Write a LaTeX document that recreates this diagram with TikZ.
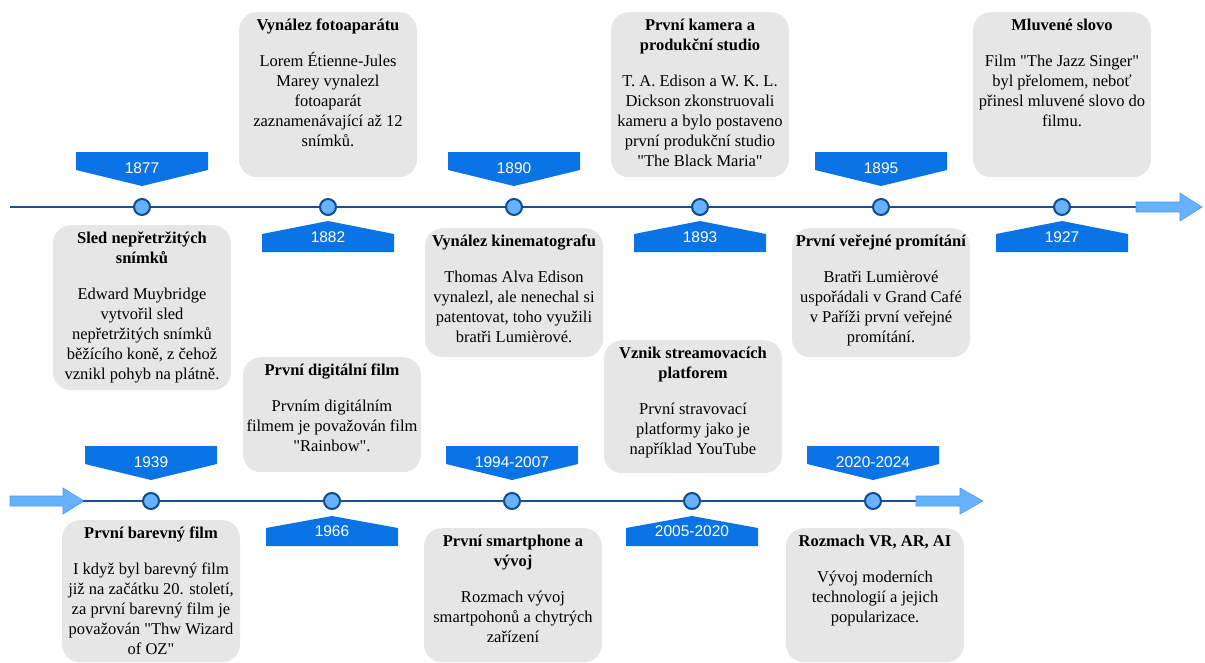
\documentclass[tikz,border=0pt]{standalone}
\usepackage{fontspec}
\setmainfont{Liberation Serif}
\newfontfamily\yearfont{Liberation Sans}
\usetikzlibrary{positioning}

\definecolor{axisblue}{HTML}{1A4F96}
\definecolor{dotrim}{HTML}{0E4C8C}
\definecolor{dotfill}{HTML}{66B2FF}
\definecolor{arrowrim}{HTML}{4A98F0}
\definecolor{tagblue}{HTML}{0A74E6}
\definecolor{cardgray}{HTML}{E6E6E6}

\begin{document}
\begin{tikzpicture}[x=1pt,y=-1pt,
    axis/.style={draw=axisblue,line width=2pt},
    event/.style={circle,draw=dotrim,fill=dotfill,line width=2pt,minimum size=16pt,inner sep=0pt},
    card/.style={fill=cardgray,rounded corners=18pt,minimum width=178pt,anchor=north,inner sep=0pt},
    cardtext/.style={font=\fontsize{16.5}{20}\selectfont,align=center,anchor=north,inner sep=0pt},
    yeartext/.style={font=\yearfont\fontsize{15.5}{18}\selectfont,text=white,inner sep=0pt},
    tag/.style={fill=tagblue},
    bigarrow/.style={fill=dotfill,draw=arrowrim,line width=0.6pt}]
  \useasboundingbox (0,0) rectangle (1205,662);

  % upper timeline
  \coordinate (u0) at (10,207);
  \coordinate (ua) at (1136,207);
  \draw[axis] (u0) -- (ua);
  \draw[bigarrow] (ua) ++(0,-5) -- ++(44,0) -- ++(0,-9) -- ++(22,14)
    -- ++(-22,14) -- ++(0,-9) -- ++(-44,0) -- cycle;
  \foreach \n/\x in {1/142,2/328,3/514,4/700,5/881,6/1062}
    \node[event] (e\n) at (\x,207) {};

  % year tags, upper line
  \foreach \x/\yr in {142/1877,514/1890,881/1895} {
    \fill[tag] (\x-66,152) -- (\x+66,152) -- (\x+66,170) -- (\x,186) -- (\x-66,170) -- cycle;
    \node[yeartext] (y\yr) at (\x,168) {\yr};
  }
  \foreach \x/\yr in {328/1882,700/1893,1062/1927} {
    \fill[tag] (\x,221) -- (\x+66,234) -- (\x+66,252) -- (\x-66,252) -- (\x-66,234) -- cycle;
    \node[yeartext] (y\yr) at (\x,237) {\yr};
  }

  % cards, upper line
  \node[card,minimum height=165pt] (c1) at (142,225) {};
  \node[cardtext,below=7pt of c1.north] (t1) {\textbf{Sled nepřetržitých}\\\textbf{snímků}\\[16pt]
    Edward Muybridge\\vytvořil sled\\nepřetržitých snímků\\běžícího koně, z čehož\\vznikl pohyb na plátně.};
  \node[card,minimum height=165pt] (c2) at (328,12) {};
  \node[cardtext,below=7pt of c2.north] (t2) {\textbf{Vynález fotoaparátu}\\[16pt]
    Lorem Étienne-Jules\\Marey vynalezl\\fotoaparát\\zaznamenávající až 12\\snímků.};
  \node[card,minimum height=129pt] (c3) at (514,228) {};
  \node[cardtext,below=7pt of c3.north] (t3) {\textbf{Vynález kinematografu}\\[16pt]
    Thomas Alva Edison\\vynalezl, ale nenechal si\\patentovat, toho využili\\bratři Lumièrové.};
  \node[card,minimum height=165pt] (c4) at (700,12) {};
  \node[cardtext,below=7pt of c4.north] (t4) {\textbf{První kamera a}\\\textbf{produkční studio}\\[16pt]
    T. A. Edison a W. K. L.\\Dickson zkonstruovali\\kameru a bylo postaveno\\první produkční studio\\\textquotedbl The Black Maria\textquotedbl};
  \node[card,minimum height=129pt] (c5) at (881,228) {};
  \node[cardtext,below=7pt of c5.north] (t5) {\textbf{První veřejné promítání}\\[16pt]
    Bratři Lumièrové\\uspořádali v Grand Café\\v Paříži první veřejné\\promítání.};
  \node[card,minimum height=165pt] (c6) at (1062,12) {};
  \node[cardtext,below=7pt of c6.north] (t6) {\textbf{Mluvené slovo}\\[16pt]
    Film \textquotedbl The Jazz Singer\textquotedbl\\byl přelomem, neboť\\přinesl mluvené slovo do\\filmu.};

  % lower timeline
  \coordinate (l0) at (10,501);
  \coordinate (la) at (83,501);
  \coordinate (lb) at (916,501);
  \draw[bigarrow] (l0) ++(0,-5) -- ++(53,0) -- ++(0,-8) -- ++(21,13)
    -- ++(-21,13) -- ++(0,-8) -- ++(-53,0) -- cycle;
  \draw[axis] (la) -- (lb);
  \draw[bigarrow] (lb) ++(0,-5) -- ++(44,0) -- ++(0,-8) -- ++(23,13)
    -- ++(-23,13) -- ++(0,-8) -- ++(-44,0) -- cycle;
  \foreach \n/\x in {7/151,8/332,9/512,10/692,11/873}
    \node[event] (e\n) at (\x,501) {};

  % year tags, lower line
  \foreach \x/\yr in {151/1939,512/1994-2007,873/2020-2024} {
    \fill[tag] (\x-66,446) -- (\x+66,446) -- (\x+66,464) -- (\x,480) -- (\x-66,464) -- cycle;
    \node[yeartext] (y\yr) at (\x,462) {\yr};
  }
  \foreach \x/\yr in {332/1966,692/2005-2020} {
    \fill[tag] (\x,516) -- (\x+66,528) -- (\x+66,546) -- (\x-66,546) -- (\x-66,528) -- cycle;
    \node[yeartext] (y\yr) at (\x,531) {\yr};
  }

  % cards, lower line
  \node[card,minimum height=142pt] (c7) at (151,520) {};
  \node[cardtext,below=7pt of c7.north] (t7) {\textbf{První barevný film}\\[16pt]
    I když byl barevný film\\již na začátku 20. století,\\za první barevný film je\\považován \textquotedbl Thw Wizard\\of OZ\textquotedbl};
  \node[card,minimum height=115pt] (c8) at (332,357) {};
  \node[cardtext,below=7pt of c8.north] (t8) {\textbf{První digitální film}\\[16pt]
    Prvním digitálním\\filmem je považován film\\\textquotedbl Rainbow\textquotedbl.};
  \node[card,minimum height=134pt] (c9) at (513,528) {};
  \node[cardtext,below=7pt of c9.north] (t9) {\textbf{První smartphone a}\\\textbf{vývoj}\\[16pt]
    Rozmach vývoj\\smartpohonů a chytrých\\zařízení};
  \node[card,minimum height=133pt] (c10) at (693,340) {};
  \node[cardtext,below=7pt of c10.north] (t10) {\textbf{Vznik streamovacích}\\\textbf{platforem}\\[16pt]
    První stravovací\\platformy jako je\\například YouTube};
  \node[card,minimum height=134pt] (c11) at (875,528) {};
  \node[cardtext,below=7pt of c11.north] (t11) {\textbf{Rozmach VR, AR, AI}\\[16pt]
    Vývoj moderních\\technologií a jejich\\popularizace.};
\end{tikzpicture}
\end{document}
